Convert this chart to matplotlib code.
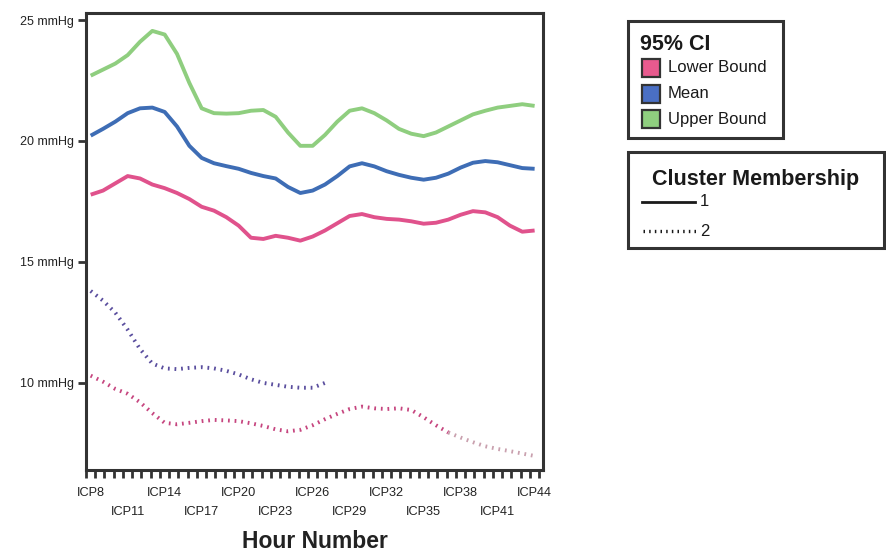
import numpy as np
import matplotlib
matplotlib.use('Agg')
import matplotlib.pyplot as plt
from matplotlib.patches import Rectangle
from matplotlib.lines import Line2D

plt.rcParams['font.family'] = ['Liberation Sans', 'DejaVu Sans']

# ---------------- data ----------------
hours = list(range(8, 45))
c1_upper = [22.70, 22.95, 23.20, 23.55, 24.10, 24.55, 24.40, 23.60, 22.40, 21.35,
            21.15, 21.13, 21.15, 21.25, 21.28, 21.00, 20.35, 19.80, 19.80, 20.25,
            20.80, 21.25, 21.35, 21.15, 20.85, 20.50, 20.30, 20.20, 20.35, 20.60,
            20.85, 21.10, 21.25, 21.38, 21.45, 21.52, 21.45]
c1_mean = [20.22, 20.50, 20.80, 21.15, 21.35, 21.38, 21.20, 20.60, 19.80, 19.30,
           19.08, 18.96, 18.85, 18.68, 18.55, 18.45, 18.10, 17.85, 17.95, 18.20,
           18.55, 18.95, 19.08, 18.95, 18.75, 18.60, 18.48, 18.40, 18.48, 18.65,
           18.90, 19.10, 19.17, 19.12, 19.00, 18.88, 18.85]
c1_lower = [17.78, 17.95, 18.25, 18.55, 18.45, 18.20, 18.05, 17.85, 17.60, 17.28,
            17.12, 16.85, 16.50, 16.00, 15.95, 16.08, 16.00, 15.88, 16.05, 16.30,
            16.60, 16.90, 16.98, 16.85, 16.78, 16.75, 16.68, 16.58, 16.62, 16.75,
            16.95, 17.10, 17.05, 16.85, 16.50, 16.25, 16.30]
c2_mean_hours = list(range(8, 28))
c2_mean = [13.80, 13.40, 12.90, 12.20, 11.40, 10.80, 10.60, 10.57, 10.62, 10.65,
           10.60, 10.50, 10.35, 10.15, 10.00, 9.92, 9.84, 9.80, 9.80, 10.00]
c2_lower = [10.30, 10.05, 9.75, 9.55, 9.20, 8.75, 8.35, 8.29, 8.35, 8.42,
            8.47, 8.45, 8.42, 8.33, 8.22, 8.08, 8.00, 8.06, 8.25, 8.50,
            8.72, 8.92, 9.02, 8.95, 8.92, 8.95, 8.88, 8.58, 8.25, 7.95,
            7.74, 7.55, 7.38, 7.27, 7.18, 7.08, 6.98]

x_tick_hours = [8, 11, 14, 17, 20, 23, 26, 29, 32, 35, 38, 41, 44]
x_tick_labels = ['ICP8', 'ICP11', 'ICP14', 'ICP17', 'ICP20', 'ICP23', 'ICP26',
                 'ICP29', 'ICP32', 'ICP35', 'ICP38', 'ICP41', 'ICP44']
y_ticks = [10, 15, 20, 25]
y_tick_labels = ['10 mmHg', '15 mmHg', '20 mmHg', '25 mmHg']

ci_labels = ['Lower Bound', 'Mean', 'Upper Bound']
cluster_labels = ['1', '2']

# ---------------- style ----------------
GREEN = '#8fce7f'
BLUE = '#3e6db5'
PINK = '#e0528c'
PURPLE_D = '#5a4e9e'
PINK_D = '#c6457f'
PINK_D2 = '#c9a0ae'
EDGE = '#333333'
dot_style = (0, (0.45, 1.25))

W, H = 886, 554
fig = plt.figure(figsize=(W / 100, H / 100), dpi=100)
L, R, T, B = 86, 543, 13, 470
ax = fig.add_axes([L / W, 1 - B / H, (R - L) / W, (B - T) / H])

ax.plot(hours, c1_upper, color=GREEN, lw=2.8, solid_capstyle='butt')
ax.plot(hours, c1_mean, color=BLUE, lw=2.8, solid_capstyle='butt')
ax.plot(hours, c1_lower, color=PINK, lw=2.8, solid_capstyle='butt')
ax.plot(c2_mean_hours, c2_mean, color=PURPLE_D, lw=2.8, linestyle=dot_style)
split = hours.index(37)
ax.plot(hours[:split + 1], c2_lower[:split + 1], color=PINK_D, lw=2.8, linestyle=dot_style)
ax.plot(hours[split:], c2_lower[split:], color=PINK_D2, lw=2.8, linestyle=dot_style)

ax.set_xlim(7.62, 44.68)
ax.set_ylim(6.40, 25.29)

for s in ax.spines.values():
    s.set_color(EDGE)
    s.set_linewidth(2.2)

ax.set_yticks(y_ticks)
ax.set_yticklabels(y_tick_labels, fontsize=9, color='#222222')
ax.tick_params(axis='y', length=6, width=2, color=EDGE, pad=3)

ax.set_xticks(x_tick_hours)
labs = [lab if i % 2 == 0 else '\n' + lab for i, lab in enumerate(x_tick_labels)]
ax.set_xticklabels(labs, fontsize=9.2, color='#222222')
for t in ax.get_xticklabels():
    t.set_linespacing(1.72)
ax.tick_params(axis='x', which='major', length=0, pad=12.5)
ax.set_xticks(np.arange(7.62, 44.5, 0.75), minor=True)
ax.tick_params(axis='x', which='minor', length=6, width=2, color=EDGE)

ax.set_xlabel('Hour Number', fontsize=16.5, fontweight='bold', color='#222222')
ax.xaxis.set_label_coords(0.5, -0.132)
ax.xaxis.label.set_va('top')

# ---------------- legends (figure pixel overlay) ----------------
ov = fig.add_axes([0, 0, 1, 1], zorder=5)
ov.set_xlim(0, W)
ov.set_ylim(H, 0)
ov.axis('off')
ov.patch.set_alpha(0)

ov.add_patch(Rectangle((628, 21), 155, 117, fill=False, edgecolor=EDGE, lw=2.2))
ov.text(640, 44, '95% CI', fontsize=15.5, fontweight='bold', va='center', ha='left', color='#1a1a1a')
sw_colors = ['#e85a8e', '#4a6fc4', GREEN]
for i, (lab, col) in enumerate(zip(ci_labels, sw_colors)):
    yc = 68 + i * 25.7
    ov.add_patch(Rectangle((642, yc - 9), 18, 18, facecolor=col, edgecolor=EDGE, lw=1.6))
    ov.text(668, yc, lab, fontsize=12, va='center', ha='left', color='#1a1a1a')

ov.add_patch(Rectangle((628, 152), 256, 96, fill=False, edgecolor=EDGE, lw=2.2))
ov.text(652, 179, 'Cluster Membership', fontsize=15.5, fontweight='bold', va='center', ha='left', color='#1a1a1a')
ov.add_line(Line2D([642, 695], [202, 202], color='#1a1a1a', lw=2.0))
ov.text(700, 202, cluster_labels[0], fontsize=12, va='center', ha='left', color='#1a1a1a')
ov.add_line(Line2D([643, 697], [231, 231], color='#1a1a1a', lw=2.4, linestyle=dot_style))
ov.text(700, 231, cluster_labels[1], fontsize=12, va='center', ha='left', color='#1a1a1a')

fig.savefig('out.png', dpi=100, facecolor='white')
